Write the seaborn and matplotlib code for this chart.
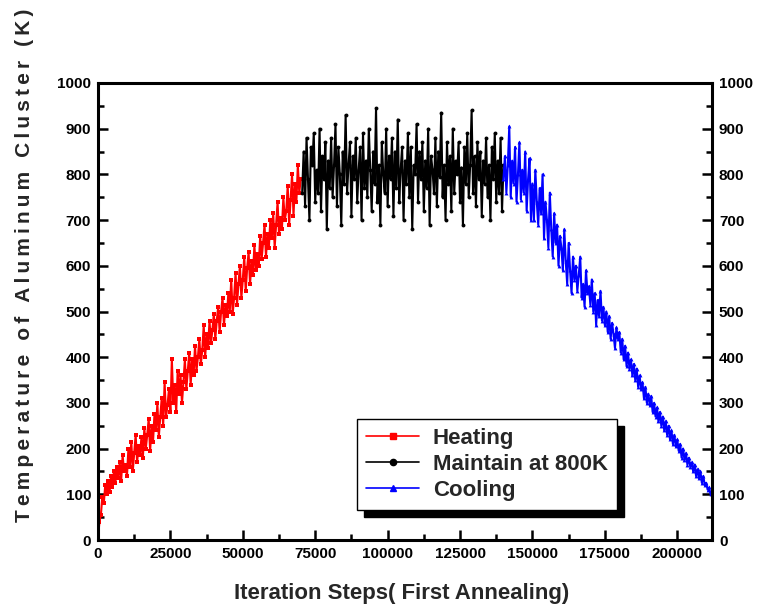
import matplotlib
matplotlib.use("Agg")
import matplotlib.pyplot as plt
import seaborn as sns
import pandas as pd
from matplotlib.lines import Line2D
from matplotlib.ticker import MultipleLocator

# ---- data (temperature in K, sampled every 500 iteration steps) ----
heat_steps = list(range(0, 70001, 500))
heat_temp = [5, 40, 55, 95, 80, 120, 100, 130, 105, 140,
             115, 150, 125, 160, 135, 170, 130, 185, 150, 165,
             140, 200, 160, 215, 150, 190, 230, 170, 205, 185,
             225, 180, 245, 200, 230, 265, 195, 250, 215, 275,
             240, 300, 225, 270, 310, 250, 345, 270, 295, 330,
             280, 395, 300, 340, 280, 370, 320, 360, 300, 345,
             395, 330, 370, 410, 340, 395, 360, 425, 370, 400,
             440, 385, 415, 470, 400, 450, 420, 480, 430, 460,
             495, 440, 480, 510, 455, 500, 530, 470, 515, 490,
             540, 500, 570, 495, 530, 585, 515, 560, 600, 530,
             570, 620, 545, 595, 630, 560, 610, 580, 645, 590,
             625, 600, 665, 615, 650, 690, 620, 670, 640, 700,
             660, 715, 640, 690, 740, 670, 705, 680, 750, 700,
             720, 775, 690, 745, 800, 710, 780, 740, 820, 760,
             790]

hold_steps = list(range(70500, 140001, 500))
hold_temp = [760, 850, 730, 880, 790, 700, 860, 820, 890, 740,
             810, 760, 900, 720, 840, 790, 870, 680, 830, 770,
             880, 750, 820, 910, 730, 860, 800, 690, 850, 780,
             930, 760, 820, 870, 710, 840, 790, 880, 740, 810,
             860, 700, 890, 770, 830, 750, 900, 810, 720, 850,
             780, 945, 740, 820, 690, 870, 800, 760, 900, 730,
             840, 790, 880, 710, 850, 770, 920, 740, 810, 860,
             700, 830, 780, 890, 750, 860, 680, 820, 800, 910,
             740, 850, 790, 870, 720, 830, 770, 900, 690, 840,
             810, 760, 880, 730, 850, 795, 935, 750, 820, 700,
             870, 780, 840, 720, 900, 760, 830, 800, 870, 740,
             815, 690, 860, 780, 890, 750, 820, 940, 760, 840,
             730, 870, 790, 850, 710, 830, 780, 880, 750, 820,
             700, 860, 790, 890, 740, 830, 760, 880, 720, 820]

cool_steps = list(range(140000, 212001, 500))
cool_temp = [790, 840, 760, 820, 905, 750, 830, 780, 860, 740,
             800, 870, 745, 810, 760, 850, 720, 790, 835, 700,
             780, 700, 810, 740, 690, 770, 715, 800, 660, 740,
             700, 640, 760, 680, 620, 715, 650, 690, 600, 665,
             640, 590, 680, 610, 560, 650, 590, 540, 620, 570,
             600, 545, 580, 620, 530, 560, 510, 590, 540, 555,
             515, 570, 500, 540, 470, 525, 490, 545, 480, 510,
             470, 500, 455, 490, 440, 475, 450, 420, 465, 440,
             455, 410, 440, 395, 425, 380, 410, 375, 395, 360,
             385, 350, 375, 335, 360, 330, 345, 310, 335, 300,
             320, 295, 315, 280, 300, 270, 290, 260, 280, 250,
             270, 240, 260, 230, 250, 220, 240, 210, 230, 205,
             220, 195, 210, 180, 200, 175, 190, 165, 180, 160,
             170, 150, 165, 140, 155, 135, 150, 125, 140, 120,
             125, 110, 115, 100, 105]

labels = ["Heating", "Maintain at 800K", "Cooling"]
colors = ["#ff0000", "#000000", "#0000ff"]
markers = ["s", "o", "^"]
x_ticks = [0, 25000, 50000, 75000, 100000, 125000, 150000, 175000, 200000]
y_ticks = [0, 100, 200, 300, 400, 500, 600, 700, 800, 900, 1000]

sns.set_theme(style="white")
plt.rcParams['font.family'] = ['Liberation Sans', 'DejaVu Sans']
plt.rcParams['font.weight'] = 'bold'

fig = plt.figure(figsize=(7.68, 6.12), dpi=100)
ax = fig.add_axes([98/768, 72/612, (712-98)/768, (540-83)/612])

series = [(heat_steps, heat_temp), (hold_steps, hold_temp), (cool_steps, cool_temp)]
for (xs, ys), lab, c, m in zip(series, labels, colors, markers):
    df = pd.DataFrame({"step": xs, "temp": ys})
    sns.lineplot(data=df, x="step", y="temp", ax=ax, color=c, linewidth=1.5,
                 marker=m, markersize=2.8, markeredgewidth=0, sort=False,
                 legend=False)

ax.set_xlim(0, 212000)
ax.set_ylim(0, 1000)
ax.set_xticks(x_ticks)
ax.set_xticklabels([str(v) for v in x_ticks], fontweight="bold")
ax.set_yticks(y_ticks)
ax.set_yticklabels([str(v) for v in y_ticks], fontweight="bold")
ax.xaxis.set_minor_locator(MultipleLocator(12500))
ax.yaxis.set_minor_locator(MultipleLocator(50))

for s in ax.spines.values():
    s.set_visible(True)
    s.set_color("black")
    s.set_linewidth(2.2)

ax.tick_params(axis="both", which="both", direction="in", color="black",
               width=1.8, labelsize=11, labelcolor="black")
ax.tick_params(axis="y", which="both", left=True, right=True,
               labelleft=True, labelright=True)
ax.tick_params(axis="x", which="both", bottom=True, top=False)
ax.tick_params(which="major", length=7, pad=5)
ax.tick_params(which="minor", length=4)

ax.set_xlabel("Iteration Steps( First Annealing)", fontsize=16, fontweight="bold")
ax.xaxis.set_label_coords(0.495, -0.095)
ylab = "Temperature of Aluminum Cluster (K)"
spaced = "\u2009".join(ylab)
ax.set_ylabel(spaced, fontsize=15, fontweight="bold")
ax.yaxis.set_label_coords(-0.104, 0.6)

handles = [Line2D([0], [0], color=c, marker=m, markersize=4.5, linewidth=1.2)
           for c, m in zip(colors, markers)]
leg = ax.legend(handles, labels, loc="lower left", bbox_to_anchor=(0.422, 0.066),
                borderaxespad=0, frameon=True, fancybox=False, edgecolor="black",
                framealpha=1,
                shadow={"ox": 5, "oy": -5, "color": "black", "alpha": 1},
                prop={"weight": "bold", "size": 16}, handlelength=2.4,
                labelspacing=0.22, borderpad=0.4, handletextpad=0.6)
leg.get_frame().set_linewidth(1.0)

fig.savefig("out.png", dpi=100)
